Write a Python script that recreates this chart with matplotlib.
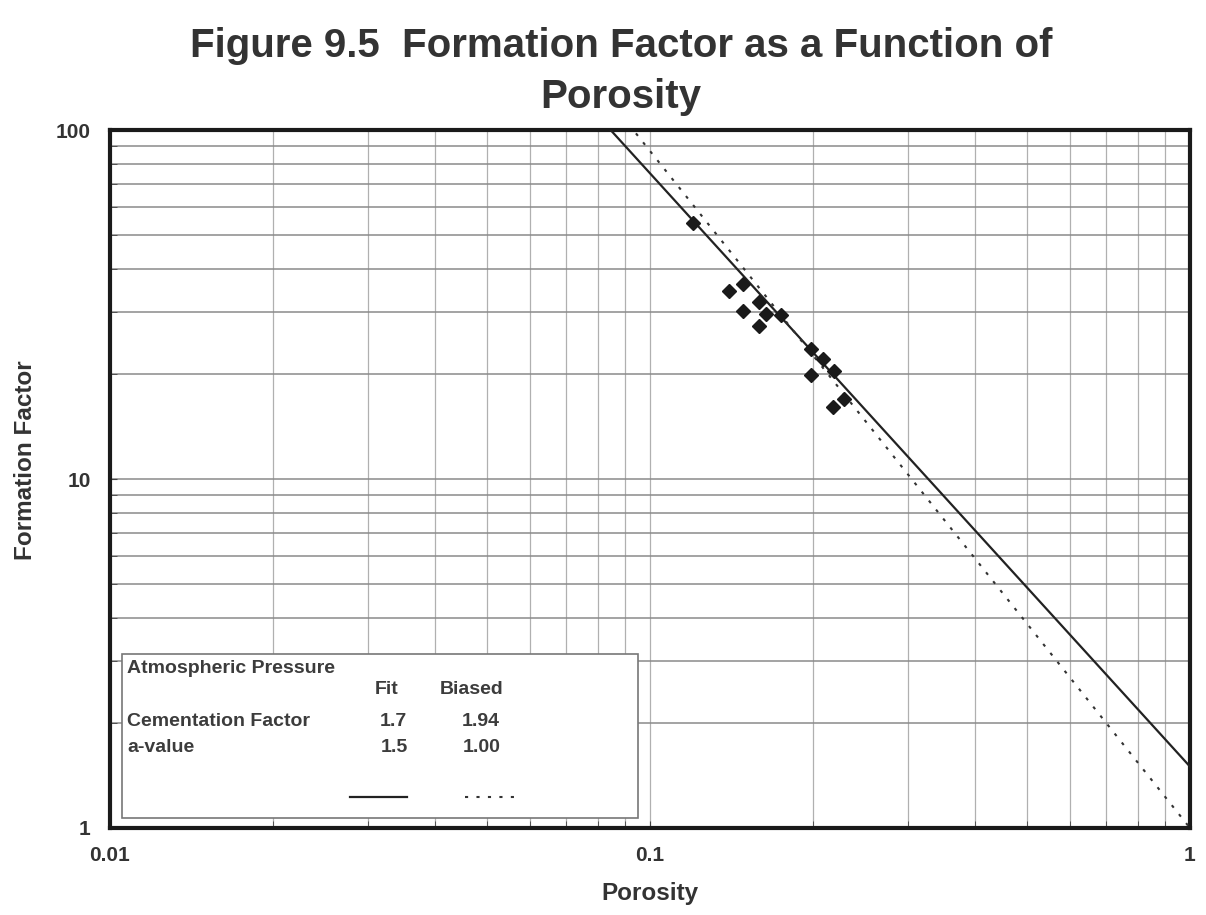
import numpy as np
import matplotlib
matplotlib.use("Agg")
import matplotlib.pyplot as plt
from matplotlib.patches import Rectangle

plt.rcParams['font.family'] = ['Liberation Sans', 'DejaVu Sans']

# Datos medidos (porosidad, factor de formacion)
porosidad = [0.120, 0.140, 0.149, 0.159, 0.149, 0.164, 0.175, 0.159,
             0.199, 0.209, 0.219, 0.199, 0.229, 0.218]
factor = [54.1, 34.6, 36.2, 32.1, 30.3, 29.7, 29.5, 27.4,
          23.6, 22.1, 20.4, 19.9, 17.0, 16.1]

# Parametros de Archie
m_fit, a_fit = 1.7, 1.5
m_bias, a_bias = 1.94, 1.00

phi = np.logspace(-2, 0, 200)
F_fit = a_fit * phi ** (-m_fit)
F_bias = a_bias * phi ** (-m_bias)

fig = plt.figure(figsize=(12.06, 9.15), dpi=100)
ax = fig.add_axes([0.0912, 0.0951, 0.8955, 0.7628])

ax.set_xscale('log')
ax.set_yscale('log')
ax.set_xlim(0.01, 1)
ax.set_ylim(1, 100)

ax.grid(True, which='both', axis='x', color='#b0b0b0', linewidth=0.9)
ax.grid(True, which='both', axis='y', color='#8a8a8a', linewidth=1.1)
ax.set_axisbelow(True)

ax.plot(phi, F_fit, color='#222222', linewidth=1.6, zorder=3)
ax.plot(phi, F_bias, color='#333333', linewidth=1.5, linestyle=(0, (1.5, 4)), zorder=3)
ax.plot(porosidad, factor, 'D', color='#1a1a1a', markersize=7, zorder=4)

for s in ax.spines.values():
    s.set_linewidth(3)
    s.set_color('#1a1a1a')

ax.set_xticks([0.01, 0.1, 1])
ax.set_xticklabels(['0.01', '0.1', '1'])
ax.set_yticks([1, 10, 100])
ax.set_yticklabels(['1', '10', '100'])
ax.tick_params(which='both', direction='in', length=5, labelsize=15, color='#444444')
ax.tick_params(axis='x', pad=13)
ax.tick_params(axis='y', pad=14)
for lbl in ax.get_xticklabels() + ax.get_yticklabels():
    lbl.set_fontweight('bold')
    lbl.set_color('#333333')

ax.set_xlabel('Porosity', fontsize=17.5, fontweight='bold', color='#333333')
ax.xaxis.set_label_coords(0.5, -0.077)
ax.set_ylabel('Formation Factor', fontsize=17.5, fontweight='bold', color='#333333')
ax.yaxis.set_label_coords(-0.068, 0.527)

fig.text(0.515, 0.9377, 'Figure 9.5  Formation Factor as a Function of',
         ha='center', va='baseline', fontsize=29, fontweight='bold', color='#333333')
fig.text(0.515, 0.882, 'Porosity',
         ha='center', va='baseline', fontsize=29, fontweight='bold', color='#333333')

# Cuadro de leyenda
ax.add_patch(Rectangle((0.011, 0.014), 0.478, 0.235, transform=ax.transAxes,
                       facecolor='white', edgecolor='#777777', linewidth=1.2, zorder=5))
kw = dict(transform=ax.transAxes, fontsize=14, fontweight='bold', color='#3c3c3c',
          zorder=6, va='center')
ax.text(0.0157, 0.229, 'Atmospheric Pressure', ha='left', **kw)
ax.text(0.256, 0.198, 'Fit', ha='center', **kw)
ax.text(0.335, 0.198, 'Biased', ha='center', **kw)
ax.text(0.0157, 0.152, 'Cementation Factor', ha='left', **kw)
ax.text(0.262, 0.152, f'{m_fit:.1f}', ha='center', **kw)
ax.text(0.343, 0.152, f'{m_bias:.2f}', ha='center', **kw)
ax.text(0.0157, 0.115, 'a-value', ha='left', **kw)
ax.text(0.263, 0.115, f'{a_fit:.1f}', ha='center', **kw)
ax.text(0.344, 0.115, f'{a_bias:.2f}', ha='center', **kw)
ax.plot([0.222, 0.275], [0.044, 0.044], transform=ax.transAxes, color='#222222',
        linewidth=1.6, zorder=6)
ax.plot([0.329, 0.378], [0.044, 0.044], transform=ax.transAxes, color='#333333',
        linewidth=1.5, linestyle=(0, (1.5, 4)), zorder=6)

fig.savefig('out.png', dpi=100)
